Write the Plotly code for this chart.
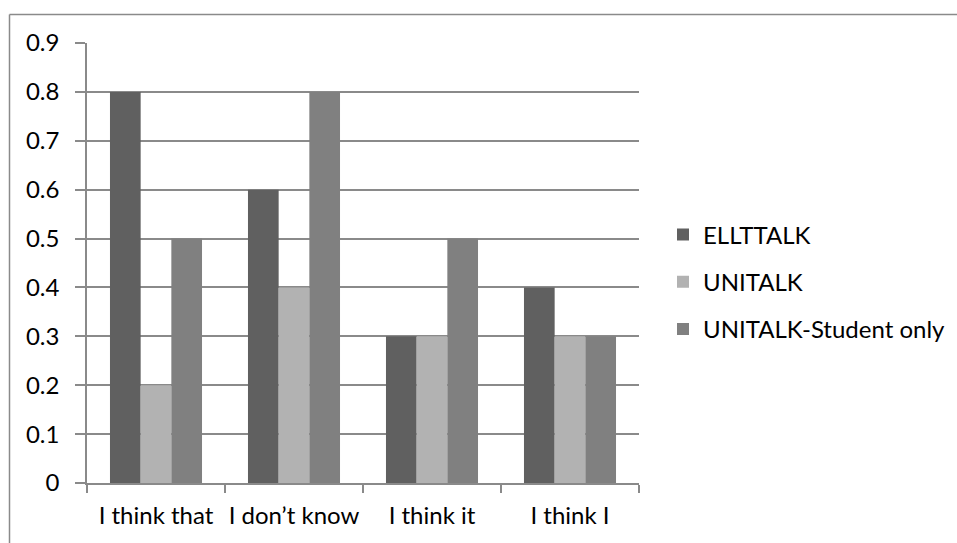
import plotly.graph_objects as go

categories = ["I think that", "I don\u2019t know", "I think it", "I think I"]
series_names = ["ELLTTALK", "UNITALK", "UNITALK-Student only"]
ellttalk = [0.8, 0.6, 0.3, 0.4]
unitalk = [0.2, 0.4, 0.3, 0.3]
unitalk_student = [0.5, 0.8, 0.5, 0.3]
colors = ["#606060", "#b2b2b2", "#808080"]
y_ticks = [0, 0.1, 0.2, 0.3, 0.4, 0.5, 0.6, 0.7, 0.8, 0.9]
y_tick_labels = ["0", "0.1", "0.2", "0.3", "0.4", "0.5", "0.6", "0.7", "0.8", "0.9"]

W, H = 957, 543
L, R, T, B = 87, 318, 43, 60
pw, ph = W - L - R, H - T - B

FONT = "Lato"
GRID = "#8a8a8a"

fig = go.Figure()
for i, (name, vals) in enumerate(zip(series_names, [ellttalk, unitalk, unitalk_student])):
    fig.add_trace(go.Bar(
        x=categories, y=vals, name=name,
        marker=dict(color=colors[i], line=dict(width=0)),
        legendgroup=f"g{i}",
    ))

def px_x(p):
    return (p - L) / pw

def px_y(p):
    return (H - B - p) / ph

fig.update_layout(
    width=W, height=H,
    margin=dict(l=L, r=R, t=T, b=B, autoexpand=False),
    paper_bgcolor="white", plot_bgcolor="white",
    barmode="group", bargap=0.333, bargroupgap=0,
    font=dict(family=FONT, size=24, color="#000000"),
    showlegend=True,
    legend=dict(
        x=px_x(663), y=px_y(282), xanchor="left", yanchor="middle",
        font=dict(family=FONT, size=24, color="#000000"),
        tracegroupgap=13, bgcolor="rgba(0,0,0,0)",
    ),
    xaxis=dict(
        type="category", tickson="boundaries", ticks="outside", ticklen=8,
        tickcolor=GRID, tickwidth=1.5, showline=True, linecolor=GRID, linewidth=1.5,
        showgrid=False, tickfont=dict(family=FONT, size=24, color="#000000"),
        tickangle=0, automargin=False, ticklabelstandoff=10,
    ),
    yaxis=dict(
        range=[0, 0.9], tickvals=y_ticks, ticktext=y_tick_labels,
        ticks="outside", ticklen=10, tickcolor=GRID, tickwidth=1.5,
        showline=True, linecolor=GRID, linewidth=1.5,
        showgrid=True, gridcolor=GRID, gridwidth=1.5, zeroline=False,
        tickfont=dict(family=FONT, size=24, color="#000000"),
        ticklabelstandoff=11, automargin=False,
    ),
    shapes=[
        dict(type="line", xref="paper", yref="paper",
             x0=px_x(9.5), x1=px_x(960), y0=px_y(14.5), y1=px_y(14.5),
             line=dict(color=GRID, width=1.5)),
        dict(type="line", xref="paper", yref="paper",
             x0=px_x(9.5), x1=px_x(9.5), y0=px_y(14.5), y1=px_y(560),
             line=dict(color=GRID, width=1.5)),
    ],
)

fig.write_html("out.html")
